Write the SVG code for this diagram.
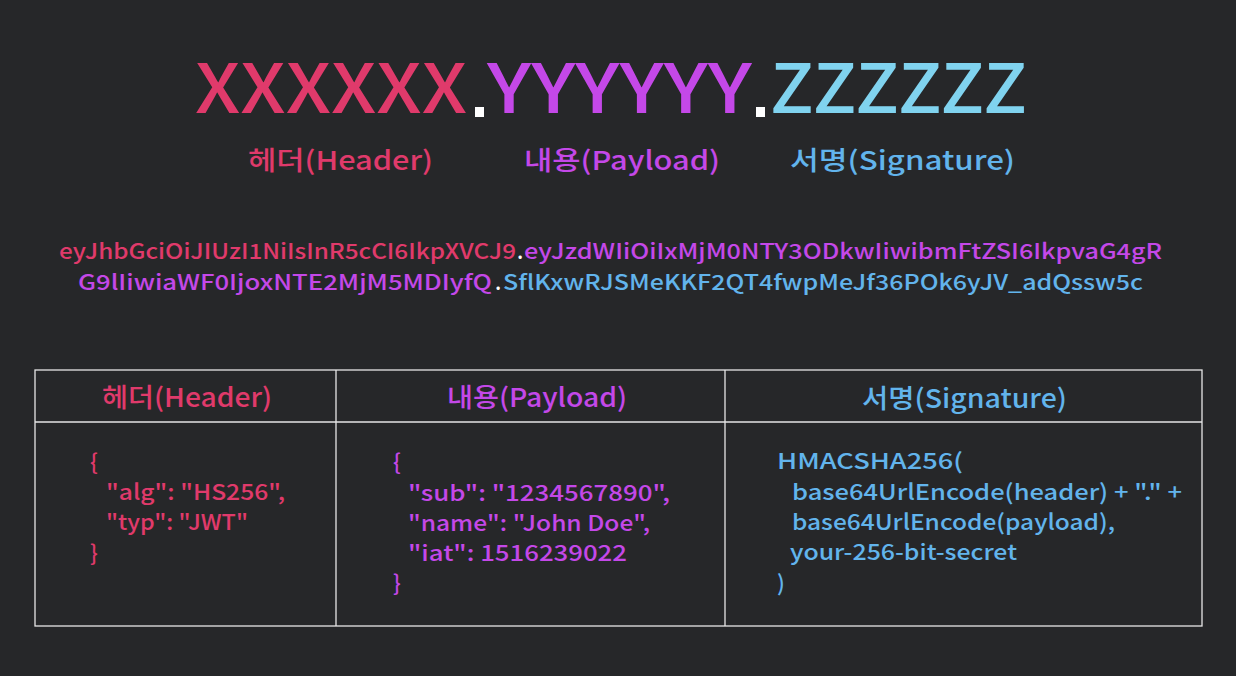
<svg xmlns="http://www.w3.org/2000/svg" width="1236" height="676" viewBox="0 0 1236 676">
<style>
text{font-family:"Noto Sans CJK KR","Noto Sans",sans-serif;font-weight:500;}
.r{fill:#e03a6b}.p{fill:#c448e8}.z{fill:#80d3ef}.b{fill:#62b4ec}.w{fill:#ffffff}
.title{font-size:68px}
.sub{font-size:26px}
.tok{font-size:21px}
.hd{font-size:26px}
.code{font-size:22px}
.grid{stroke:#e6e6e6;stroke-width:1.3;fill:none}
</style>
<rect x="0" y="0" width="1236" height="676" fill="#262729"/>
<g id="title">
<text class="title r" x="195" y="113" textLength="272" lengthAdjust="spacingAndGlyphs">XXXXXX</text>
<rect class="w" x="475" y="107" width="9" height="10"/>
<text class="title p" x="487" y="113" textLength="265" lengthAdjust="spacingAndGlyphs">YYYYYY</text>
<rect class="w" x="756" y="107" width="9" height="10"/>
<text class="title z" x="770" y="113" textLength="257" lengthAdjust="spacingAndGlyphs">ZZZZZZ</text>
</g>
<g id="labels">
<text class="sub r" x="248" y="170" textLength="185" lengthAdjust="spacingAndGlyphs">헤더(Header)</text>
<text class="sub p" x="524" y="170" textLength="196" lengthAdjust="spacingAndGlyphs">내용(Payload)</text>
<text class="sub b" x="790" y="170" textLength="225" lengthAdjust="spacingAndGlyphs">서명(Signature)</text>
</g>
<g id="token">
<text class="tok r" x="59" y="259" textLength="457" lengthAdjust="spacingAndGlyphs">eyJhbGciOiJIUzI1NiIsInR5cCI6IkpXVCJ9</text>
<text class="tok w" x="517" y="259">.</text>
<text class="tok p" x="524" y="259" textLength="638" lengthAdjust="spacingAndGlyphs">eyJzdWIiOiIxMjM0NTY3ODkwIiwibmFtZSI6IkpvaG4gR</text>
<text class="tok p" x="78" y="290" textLength="414" lengthAdjust="spacingAndGlyphs">G9lIiwiaWF0IjoxNTE2MjM5MDIyfQ</text>
<text class="tok w" x="495" y="290">.</text>
<text class="tok b" x="503" y="290" textLength="640" lengthAdjust="spacingAndGlyphs">SflKxwRJSMeKKF2QT4fwpMeJf36POk6yJV_adQssw5c</text>
</g>
<g id="table">
<rect class="grid" x="35" y="370" width="1167" height="256"/>
<line class="grid" x1="35" y1="422" x2="1202" y2="422"/>
<line class="grid" x1="336" y1="370" x2="336" y2="626"/>
<line class="grid" x1="725" y1="370" x2="725" y2="626"/>
</g>
<g id="col-header">
<text class="hd r" x="102" y="407" textLength="170" lengthAdjust="spacingAndGlyphs">헤더(Header)</text>
<text class="code r" x="90" y="470">{</text>
<text class="code r" x="106" y="500" textLength="179" lengthAdjust="spacingAndGlyphs">"alg": "HS256",</text>
<text class="code r" x="106" y="530" textLength="142" lengthAdjust="spacingAndGlyphs">"typ": "JWT"</text>
<text class="code r" x="90" y="561">}</text>
</g>
<g id="col-payload">
<text class="hd p" x="447" y="407" textLength="180" lengthAdjust="spacingAndGlyphs">내용(Payload)</text>
<text class="code p" x="393" y="470">{</text>
<text class="code p" x="408" y="501" textLength="262" lengthAdjust="spacingAndGlyphs">"sub": "1234567890",</text>
<text class="code p" x="408" y="531" textLength="242" lengthAdjust="spacingAndGlyphs">"name": "John Doe",</text>
<text class="code p" x="408" y="561" textLength="219" lengthAdjust="spacingAndGlyphs">"iat": 1516239022</text>
<text class="code p" x="393" y="591">}</text>
</g>
<g id="col-signature">
<text class="hd b" x="862" y="408" textLength="205" lengthAdjust="spacingAndGlyphs">서명(Signature)</text>
<text class="code b" x="777" y="469" textLength="186" lengthAdjust="spacingAndGlyphs">HMACSHA256(</text>
<text class="code b" x="792" y="500" textLength="390" lengthAdjust="spacingAndGlyphs">base64UrlEncode(header) + "." +</text>
<text class="code b" x="792" y="530" textLength="323" lengthAdjust="spacingAndGlyphs">base64UrlEncode(payload),</text>
<text class="code b" x="790" y="560" textLength="227" lengthAdjust="spacingAndGlyphs">your-256-bit-secret</text>
<text class="code b" x="777" y="591">)</text>
</g>
</svg>
